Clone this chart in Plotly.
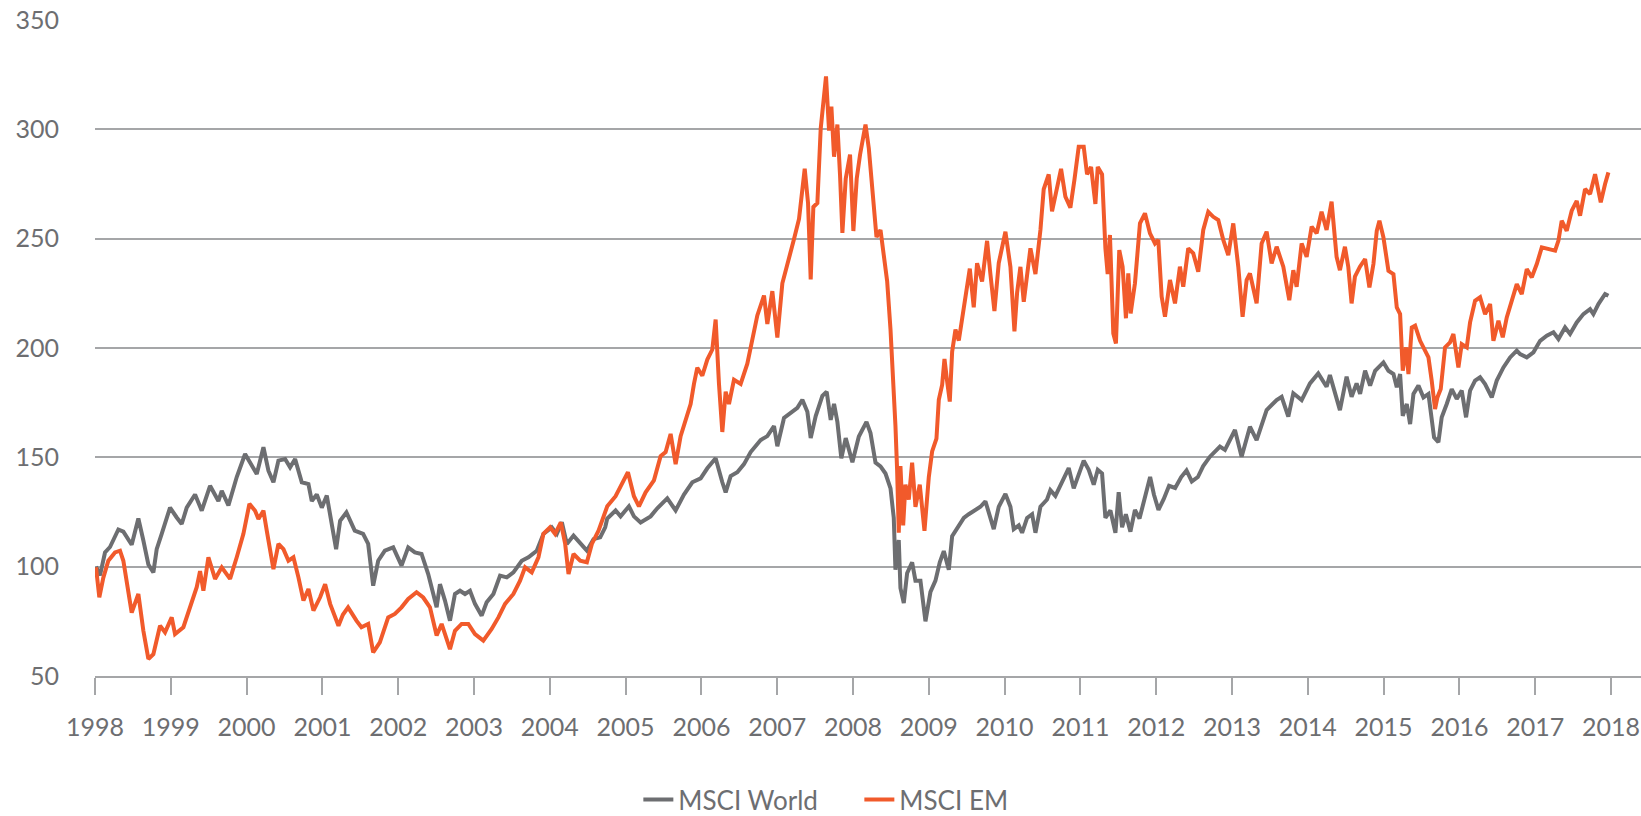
import plotly.graph_objects as go

# ---- data (index level, start = 100) ----
world_t = [1998.013, 1998.066, 1998.132, 1998.198, 1998.308, 1998.374, 1998.484, 1998.572, 1998.638, 1998.704,
           1998.770, 1998.814, 1998.880, 1998.990, 1999.078, 1999.144, 1999.210, 1999.320, 1999.408, 1999.518,
           1999.628, 1999.672, 1999.760, 1999.870, 1999.980, 2000.046, 2000.134, 2000.222, 2000.288, 2000.354,
           2000.420, 2000.508, 2000.574, 2000.640, 2000.728, 2000.816, 2000.860, 2000.926, 2000.992, 2001.058,
           2001.124, 2001.181, 2001.234, 2001.317, 2001.427, 2001.537, 2001.604, 2001.670, 2001.736, 2001.824,
           2001.934, 2002.044, 2002.132, 2002.220, 2002.308, 2002.396, 2002.463, 2002.507, 2002.551, 2002.617,
           2002.683, 2002.749, 2002.815, 2002.881, 2002.947, 2003.013, 2003.101, 2003.167, 2003.256, 2003.344,
           2003.432, 2003.520, 2003.630, 2003.718, 2003.828, 2003.916, 2004.026, 2004.093, 2004.159, 2004.225,
           2004.313, 2004.401, 2004.489, 2004.577, 2004.665, 2004.731, 2004.758, 2004.868, 2004.934, 2005.044,
           2005.110, 2005.198, 2005.330, 2005.418, 2005.550, 2005.660, 2005.770, 2005.880, 2005.990, 2006.078,
           2006.188, 2006.276, 2006.320, 2006.386, 2006.474, 2006.562, 2006.650, 2006.782, 2006.870, 2006.958,
           2007.002, 2007.090, 2007.200, 2007.266, 2007.332, 2007.398, 2007.442, 2007.508, 2007.596, 2007.653,
           2007.706, 2007.750, 2007.794, 2007.846, 2007.904, 2007.992, 2008.077, 2008.178, 2008.231, 2008.297,
           2008.363, 2008.429, 2008.495, 2008.538, 2008.560, 2008.604, 2008.626, 2008.670, 2008.714, 2008.780,
           2008.824, 2008.890, 2008.956, 2009.022, 2009.088, 2009.145, 2009.198, 2009.264, 2009.308, 2009.374,
           2009.462, 2009.527, 2009.593, 2009.681, 2009.747, 2009.857, 2009.923, 2010.011, 2010.077, 2010.121,
           2010.187, 2010.231, 2010.297, 2010.363, 2010.407, 2010.473, 2010.560, 2010.604, 2010.670, 2010.758,
           2010.846, 2010.912, 2010.978, 2011.044, 2011.110, 2011.176, 2011.229, 2011.286, 2011.330, 2011.396,
           2011.462, 2011.505, 2011.550, 2011.600, 2011.660, 2011.720, 2011.780, 2011.850, 2011.920, 2011.970,
           2012.030, 2012.100, 2012.170, 2012.250, 2012.330, 2012.400, 2012.470, 2012.550, 2012.620, 2012.709,
           2012.841, 2012.907, 2013.039, 2013.127, 2013.237, 2013.325, 2013.457, 2013.589, 2013.655, 2013.743,
           2013.809, 2013.919, 2014.029, 2014.138, 2014.248, 2014.292, 2014.424, 2014.512, 2014.578, 2014.644,
           2014.690, 2014.756, 2014.822, 2014.888, 2014.998, 2015.064, 2015.130, 2015.174, 2015.218, 2015.253,
           2015.306, 2015.350, 2015.394, 2015.460, 2015.526, 2015.592, 2015.635, 2015.666, 2015.723, 2015.767,
           2015.833, 2015.899, 2015.965, 2016.031, 2016.088, 2016.141, 2016.207, 2016.273, 2016.339, 2016.427,
           2016.493, 2016.581, 2016.669, 2016.757, 2016.801, 2016.889, 2016.977, 2017.065, 2017.153, 2017.241,
           2017.307, 2017.394, 2017.460, 2017.548, 2017.636, 2017.724, 2017.768, 2017.834, 2017.922, 2017.966]
world_v = [100, 96, 106.5, 109, 117, 116, 110, 122, 112, 101,
           97.4, 108, 115, 127, 122.5, 119.5, 127, 133, 125.6, 137,
           130, 134.7, 128, 141, 151.5, 147.7, 142.4, 154.6, 143.9, 138.6,
           148.5, 149.2, 145.4, 149.2, 138.6, 137.8, 130, 133, 127, 132.5,
           119.5, 108, 121, 124.8, 116.5, 115, 110.4, 91.3, 102.7, 107.3,
           108.8, 100.5, 108.8, 106.5, 105.8, 96.6, 87.5, 81.4, 92, 84.5,
           75.3, 87.5, 89, 87.5, 89, 83, 77.6, 83.7, 87.5, 95.9,
           95.1, 97.4, 102.7, 104.3, 107.3, 115, 118, 115, 120.3, 110.4,
           114.2, 111, 107.3, 112.6, 113.4, 118, 122, 125.7, 123, 127.6,
           123, 120.2, 123, 126.7, 131.2, 125.7, 133, 138.6, 140.4, 145,
           149.6, 138.6, 134, 141.4, 143.2, 146.9, 152.4, 157.9, 159.7, 164.3,
           155.1, 168, 170.8, 172.6, 176.3, 170.8, 158.8, 168.9, 178.1, 180,
           167.1, 174.4, 166.2, 149.6, 158.8, 147.8, 159.5, 166.2, 161.1, 147.6,
           145.9, 142.6, 135.8, 122.3, 98.6, 112.2, 90.2, 83.4, 97, 102,
           93.6, 93.6, 75, 88.5, 93.6, 102, 107.1, 98.6, 113.9, 117.2,
           122.3, 124, 125.7, 127.4, 129.9, 117.2, 127.4, 133.3, 127.4, 117.2,
           118.9, 115.5, 122.3, 124, 115.5, 127.4, 130.7, 135, 132.4, 139.2,
           145.1, 135.8, 142.6, 148.5, 144.3, 137.5, 144.3, 142.6, 122.3, 125.7,
           115.5, 134.1, 118, 124, 116, 126, 122, 131, 141, 133,
           126, 131, 137, 136, 141, 144, 139, 141, 146, 150.3,
           154.9, 153.4, 162.5, 150.3, 164, 157.9, 171.6, 176.2, 177.7, 168.6,
           179.3, 176.2, 183.8, 188.4, 182.3, 187.6, 171.6, 186.9, 177.7, 183.8,
           179, 189.6, 182.8, 189.6, 193.4, 189.6, 188.1, 182, 188.1, 169,
           174.4, 165.2, 179, 182.8, 177.4, 179, 168.3, 159.1, 156.9, 168.3,
           174.4, 181.2, 176.7, 180.5, 168.3, 180.5, 185.1, 186.6, 183.5, 177.4,
           185.1, 191.1, 195.7, 198.8, 197.2, 195.7, 198, 203.3, 205.6, 207.2,
           204.1, 209.4, 206.4, 211.7, 215.5, 217.8, 215.5, 220.1, 224.7, 223.9]

em_t = [1998.013, 1998.057, 1998.110, 1998.176, 1998.264, 1998.330, 1998.374, 1998.440, 1998.484, 1998.572,
        1998.638, 1998.704, 1998.770, 1998.858, 1998.924, 1999.012, 1999.056, 1999.166, 1999.254, 1999.342,
        1999.386, 1999.430, 1999.496, 1999.584, 1999.672, 1999.782, 1999.870, 1999.958, 2000.037, 2000.112,
        2000.156, 2000.222, 2000.266, 2000.354, 2000.420, 2000.486, 2000.552, 2000.618, 2000.684, 2000.750,
        2000.816, 2000.882, 2000.970, 2001.036, 2001.102, 2001.212, 2001.270, 2001.339, 2001.449, 2001.515,
        2001.604, 2001.670, 2001.758, 2001.868, 2001.956, 2002.044, 2002.132, 2002.242, 2002.330, 2002.419,
        2002.507, 2002.573, 2002.683, 2002.749, 2002.837, 2002.925, 2003.013, 2003.123, 2003.233, 2003.322,
        2003.410, 2003.520, 2003.608, 2003.674, 2003.762, 2003.850, 2003.916, 2004.004, 2004.070, 2004.145,
        2004.203, 2004.247, 2004.313, 2004.401, 2004.489, 2004.555, 2004.643, 2004.758, 2004.868, 2004.956,
        2005.031, 2005.110, 2005.176, 2005.264, 2005.374, 2005.462, 2005.528, 2005.594, 2005.660, 2005.726,
        2005.792, 2005.858, 2005.902, 2005.946, 2006.012, 2006.078, 2006.144, 2006.188, 2006.232, 2006.276,
        2006.320, 2006.364, 2006.430, 2006.518, 2006.606, 2006.672, 2006.738, 2006.826, 2006.870, 2006.936,
        2007.002, 2007.068, 2007.156, 2007.222, 2007.288, 2007.363, 2007.407, 2007.442, 2007.477, 2007.530,
        2007.574, 2007.609, 2007.644, 2007.684, 2007.715, 2007.750, 2007.794, 2007.829, 2007.860, 2007.904,
        2007.961, 2008.005, 2008.049, 2008.093, 2008.165, 2008.209, 2008.253, 2008.310, 2008.363, 2008.407,
        2008.451, 2008.495, 2008.530, 2008.560, 2008.582, 2008.604, 2008.626, 2008.662, 2008.692, 2008.736,
        2008.780, 2008.824, 2008.881, 2008.943, 2009.000, 2009.044, 2009.101, 2009.132, 2009.176, 2009.207,
        2009.242, 2009.277, 2009.308, 2009.352, 2009.396, 2009.440, 2009.484, 2009.541, 2009.593, 2009.637,
        2009.703, 2009.769, 2009.813, 2009.866, 2009.923, 2010.011, 2010.077, 2010.130, 2010.165, 2010.209,
        2010.253, 2010.341, 2010.407, 2010.473, 2010.516, 2010.582, 2010.626, 2010.692, 2010.745, 2010.802,
        2010.868, 2010.921, 2010.978, 2011.044, 2011.088, 2011.141, 2011.198, 2011.229, 2011.286, 2011.330,
        2011.360, 2011.390, 2011.434, 2011.469, 2011.513, 2011.557, 2011.601, 2011.632, 2011.663, 2011.720,
        2011.786, 2011.852, 2011.918, 2011.984, 2012.028, 2012.072, 2012.116, 2012.182, 2012.248, 2012.313,
        2012.357, 2012.423, 2012.489, 2012.555, 2012.621, 2012.687, 2012.753, 2012.819, 2012.885, 2012.951,
        2013.017, 2013.083, 2013.140, 2013.193, 2013.237, 2013.325, 2013.391, 2013.457, 2013.523, 2013.589,
        2013.677, 2013.756, 2013.809, 2013.853, 2013.919, 2013.985, 2014.051, 2014.117, 2014.182, 2014.248,
        2014.314, 2014.380, 2014.424, 2014.490, 2014.534, 2014.578, 2014.622, 2014.688, 2014.756, 2014.813,
        2014.866, 2014.910, 2014.945, 2014.998, 2015.064, 2015.130, 2015.174, 2015.218, 2015.253, 2015.297,
        2015.328, 2015.372, 2015.416, 2015.482, 2015.548, 2015.592, 2015.635, 2015.679, 2015.710, 2015.754,
        2015.811, 2015.877, 2015.921, 2015.987, 2016.031, 2016.097, 2016.141, 2016.207, 2016.273, 2016.339,
        2016.405, 2016.449, 2016.515, 2016.572, 2016.625, 2016.691, 2016.757, 2016.823, 2016.889, 2016.955,
        2017.021, 2017.087, 2017.175, 2017.263, 2017.307, 2017.350, 2017.416, 2017.482, 2017.548, 2017.592,
        2017.658, 2017.724, 2017.790, 2017.834, 2017.865, 2017.922, 2017.966]
em_v = [99.7, 86, 95, 102.7, 106.5, 107.3, 102.7, 89, 79, 87.5,
        70.7, 57.8, 60, 73, 70, 76.8, 69.2, 72.3, 81.4, 90.6,
        98, 89, 104.3, 94.4, 99.7, 94.4, 104.3, 115, 128.7, 125.6,
        121.8, 125.6, 116.5, 98.9, 110.4, 108, 102.7, 104.3, 95.1, 84.5,
        89.8, 79.9, 86, 92, 83, 73, 78, 81.4, 75.3, 72.3,
        73.8, 60.8, 65.4, 76.8, 78.4, 81.4, 85.2, 88.3, 85.9, 81.4,
        68.5, 73.8, 62.3, 70.7, 73.8, 73.8, 69.2, 66.2, 71.5, 76.8,
        83, 87.5, 93.6, 99.7, 97.4, 104.3, 115, 118, 115, 120.3,
        110.4, 96.6, 105.8, 102.7, 102, 110.4, 116.5, 127.6, 132.2, 137.7,
        143.2, 132.2, 127.6, 134, 139.5, 150.5, 152.4, 160.7, 146.9, 159.7,
        167, 174.4, 183.6, 191, 187.3, 194.7, 199.3, 213, 183.6, 161.6,
        180, 174.4, 185.5, 183.6, 192.8, 203.8, 214.9, 224, 211, 226,
        204.8, 229.6, 240.6, 249.8, 259, 282, 266.3, 231.4, 264.5, 266.3,
        300.3, 311.4, 324.2, 299.4, 310.4, 287.5, 302.2, 279.2, 252.6, 277.4,
        288.4, 253.5, 277.4, 288.4, 302.2, 291.2, 272.6, 250.7, 254, 242.2,
        230.4, 208.4, 186.5, 164.5, 144.3, 115.5, 146, 118.9, 137.5, 130.7,
        147.6, 127.4, 137.5, 116.4, 140.9, 152.7, 158.6, 176.3, 183.1, 195,
        184.8, 175.5, 198.3, 208.4, 203.4, 213.5, 223.6, 236.3, 218.6, 238.8,
        230.4, 249, 233.8, 216.9, 238.8, 253.2, 237.1, 207.6, 225.3, 237.1,
        221.1, 245.6, 233.8, 254, 272.6, 279.4, 262.5, 274.3, 281.9, 269.2,
        264.2, 276.8, 292, 292, 279.4, 282.8, 265.9, 282.8, 279.4, 245.6,
        233.8, 251.7, 206.7, 202.1, 244.8, 237.2, 213.6, 234.1, 215.8, 229.6,
        257, 261.6, 252.4, 247.8, 249.4, 223.5, 214.3, 231.1, 220.4, 237.2,
        228, 245.6, 243.3, 234.9, 254, 262.3, 260, 258.5, 249.4, 242.5,
        257, 237.2, 214.3, 231.1, 234.1, 220.4, 247.8, 253.2, 238.7, 246.3,
        237.2, 221.9, 235.6, 228, 247.8, 241.7, 255.5, 252.4, 262.3, 254,
        266.9, 241.7, 235.6, 246.3, 237.2, 220.4, 232.6, 237.2, 240.7, 227.7,
        238.4, 253.6, 258.2, 250.6, 235.3, 233.8, 218.6, 215.5, 189.6, 200.3,
        188.1, 209.4, 210.2, 203.3, 198.8, 195.7, 185, 172.1, 177.4, 181.2,
        200.3, 202.6, 206.4, 191.1, 201.8, 200.3, 211.7, 221.6, 223.2, 215.5,
        220.1, 203.3, 212.5, 204.9, 214, 221.6, 229.2, 224.7, 236.1, 232.3,
        238.4, 246, 245.3, 244.5, 249.1, 258.2, 253.6, 262.8, 267.3, 260.5,
        272.7, 270.4, 279.5, 271.9, 266.6, 275, 280.3]

year_ticks = list(range(1998, 2019))
value_ticks = [50, 100, 150, 200, 250, 300, 350]

GRAY_TEXT = "#6d6e71"
GRID = "#a5a6a8"

fig = go.Figure()
fig.add_trace(go.Scatter(x=world_t, y=world_v, mode="lines", name="MSCI World",
                         line=dict(color="#6d6e71", width=4)))
fig.add_trace(go.Scatter(x=em_t, y=em_v, mode="lines", name="MSCI EM",
                         line=dict(color="#f15a2b", width=4)))

fig.update_layout(
    width=1641, height=816,
    margin=dict(l=95, r=0, t=20, b=140, autoexpand=False),
    paper_bgcolor="white", plot_bgcolor="white",
    font=dict(family="Lato", size=25, color=GRAY_TEXT),
    showlegend=True,
    legend=dict(orientation="h", xref="container", yref="container",
                x=0.389, xanchor="left", y=0.02, yanchor="middle",
                entrywidth=176, entrywidthmode="pixels",
                font=dict(size=26, color=GRAY_TEXT), bgcolor="rgba(0,0,0,0)"),
    xaxis=dict(range=[1998, 2018.396], tickmode="array", tickvals=year_ticks,
               ticktext=[str(y) for y in year_ticks], showgrid=False, zeroline=False,
               showline=True, linecolor=GRID, linewidth=1.5, automargin=False,
               ticks="outside", ticklen=17, tickwidth=1.5, tickcolor=GRID,
               ticklabelstandoff=11),
    yaxis=dict(range=[50, 350], tickmode="array", tickvals=value_ticks, automargin=False,
               showgrid=True, gridcolor=GRID, gridwidth=1.5, zeroline=False,
               showline=False, ticks="", ticklabelstandoff=35),
)

fig.write_html("out.html", config={"displayModeBar": False},
               post_script="document.body.style.margin='0';")
